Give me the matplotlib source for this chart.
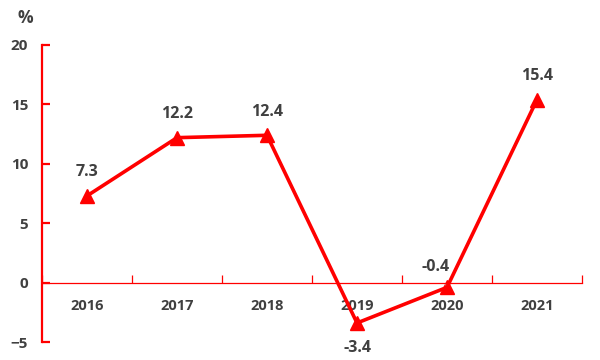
import matplotlib
matplotlib.use('Agg')
import matplotlib.pyplot as plt
import numpy as np

years = ['2016', '2017', '2018', '2019', '2020', '2021']
growth = [7.3, 12.2, 12.4, -3.4, -0.4, 15.4]
label_text = ['7.3', '12.2', '12.4', '-3.4', '-0.4', '15.4']

red = '#FF0000'
grey = '#404040'
plt.rcParams['font.family'] = ['Open Sans', 'DejaVu Sans']
plt.rcParams['font.weight'] = 'bold'

fig = plt.figure(figsize=(6, 3.6), dpi=100)
ax = fig.add_axes([0.07, 0.05, 0.9, 0.825])
x = np.arange(len(years))
ax.plot(x, growth, color=red, lw=2.6, marker='^', ms=10, zorder=3)

ax.set_xlim(-0.5, len(years) - 0.5)
ax.set_ylim(-5, 20)
ax.set_yticks([-5, 0, 5, 10, 15, 20])

for s in ['top', 'right']:
    ax.spines[s].set_visible(False)
ax.spines['left'].set_color(red)
ax.spines['left'].set_linewidth(1.6)
ax.spines['bottom'].set_color(red)
ax.spines['bottom'].set_linewidth(0.9)
ax.spines['bottom'].set_position(('data', 0))

ax.tick_params(axis='y', direction='in', length=6, width=1.6, color=red,
               labelsize=11, labelcolor=grey, pad=10)
ax.set_xticks(x)
ax.set_xticklabels(years)
ax.set_xticks(np.arange(-0.5, len(years)), minor=True)
ax.tick_params(axis='x', which='major', length=0, labelsize=10.5,
               labelcolor=grey, pad=12)
ax.tick_params(axis='x', which='minor', direction='in', length=6,
               width=0.9, color=red)
for lab in ax.get_xticklabels() + ax.get_yticklabels():
    lab.set_fontweight('bold')

for i, (v, t) in enumerate(zip(growth, label_text)):
    if t == '-3.4':
        ax.annotate(t, (i, v), xytext=(0, -18), textcoords='offset points',
                    ha='center', va='center', fontsize=11.5, color=grey, fontweight='bold')
    elif t == '-0.4':
        ax.annotate(t, (i, v), xytext=(-8, 15), textcoords='offset points',
                    ha='center', va='center', fontsize=11.5, color=grey, fontweight='bold',
                    arrowprops=dict(arrowstyle='-', color='#A0A0A0', lw=0.8,
                                    shrinkA=6, shrinkB=2))
    else:
        ax.annotate(t, (i, v), xytext=(0, 17), textcoords='offset points',
                    ha='center', va='center', fontsize=11.5, color=grey, fontweight='bold')

fig.text(25 / 600, 1 - 18 / 360, '%', ha='center', va='center',
         fontsize=12.5, color=grey, fontweight='bold')

fig.savefig('out.png', dpi=100)
